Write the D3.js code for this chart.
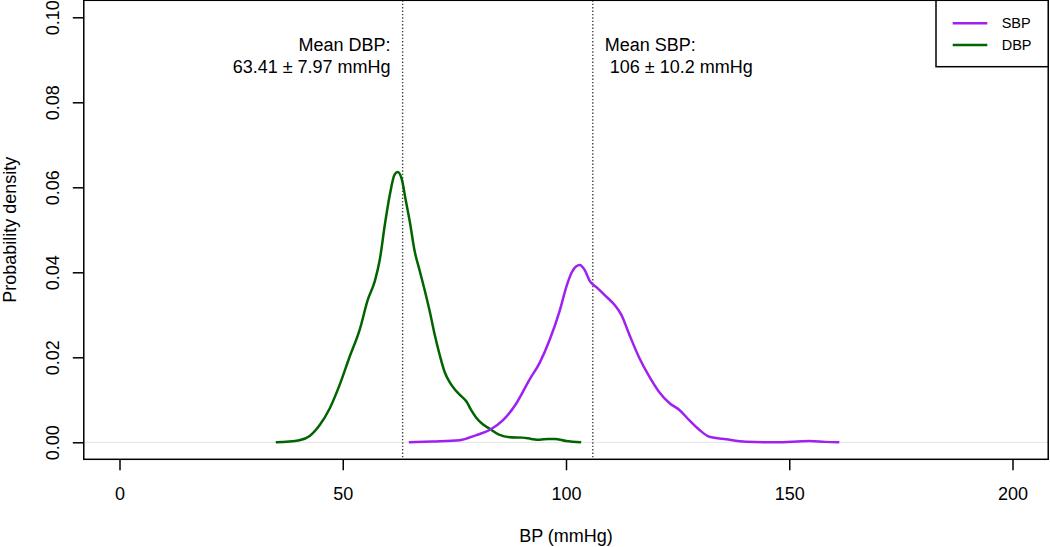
<!DOCTYPE html>
<html>
<head>
<meta charset="utf-8">
<script src="https://cdn.jsdelivr.net/npm/d3@7"></script>
<style>
  html, body { margin: 0; padding: 0; background: #fff; }
  svg { display: block; font-family: "Liberation Sans", Arial, sans-serif; }
  text { white-space: pre; }
</style>
</head>
<body>
<svg id="chart" width="1050" height="547"></svg>
<script>
// ---- data ----
const dbpX = [35, 40.3, 42.6, 44.8, 47.1, 49.3, 51.5, 53.8, 55.6, 57.2, 58.3, 59.4, 60.5, 61.6, 62.3, 63.2, 64.1, 65.0, 66.1, 67.2, 68.3, 69.5, 70.6, 71.7, 72.8, 73.9, 75.2, 76.4, 77.7, 78.8, 79.9, 81.3, 82.9, 85.0, 87.4, 90.3, 92.2, 94.1, 96.0, 97.5, 100.0, 103.4];
const dbpY = [0.0, 0.0005, 0.0015, 0.004, 0.008, 0.0135, 0.020, 0.0265, 0.0335, 0.038, 0.043, 0.051, 0.058, 0.063, 0.0636, 0.062, 0.057, 0.052, 0.045, 0.0405, 0.036, 0.0307, 0.0253, 0.0206, 0.0166, 0.0142, 0.0123, 0.0110, 0.0096, 0.0075, 0.0058, 0.0043, 0.0032, 0.0018, 0.0012, 0.0011, 0.0008, 0.0006, 0.0008, 0.0008, 0.0003, 0.0];
const sbpX = [64.8, 70.0, 76.2, 79.9, 82.9, 85.9, 88.9, 91.8, 94.1, 96.3, 98.6, 100.2, 101.3, 102.3, 103.1, 104.2, 105.3, 106.8, 108.6, 110.9, 112.4, 114.2, 116.4, 118.7, 120.9, 123.2, 125.4, 127.6, 129.9, 132.1, 135.9, 140.3, 147.0, 154.5, 158.0, 161.2];
const sbpY = [0.0, 0.0002, 0.0005, 0.0017, 0.0029, 0.0052, 0.0092, 0.0147, 0.0187, 0.024, 0.031, 0.037, 0.040, 0.0414, 0.0417, 0.0405, 0.038, 0.0365, 0.0347, 0.0323, 0.030, 0.0253, 0.0199, 0.0154, 0.0118, 0.0092, 0.0076, 0.0052, 0.0029, 0.0013, 0.0007, 0.00015, 0.0, 0.0003, 0.0001, 0.0];
const xTicks = [0, 50, 100, 150, 200];
const yTicks = [0.00, 0.02, 0.04, 0.06, 0.08, 0.10];
const meanDBP = 63.41;
const meanSBP = 106;
const dbpLabel = ["Mean DBP:", "63.41 \u00b1 7.97 mmHg"];
const sbpLabel = ["Mean SBP:", " 106 \u00b1 10.2 mmHg"];
const seriesNames = ["SBP", "DBP"];
const seriesColors = ["#A020F0", "#006400"];
const xTitle = "BP (mmHg)";
const yTitle = "Probability density";

// ---- scales ----
const x = d3.scaleLinear().domain([0, 200]).range([119.5, 1012.5]);
const y = d3.scaleLinear().domain([0, 0.1]).range([442.3, 17.3]);
const xLo = x(-8), xHi = x(208), yLo = y(-0.004), yHi = y(0.104);

const svg = d3.select("#chart");
const FS = 18;

// zero line
svg.append("line")
  .attr("x1", xLo).attr("x2", xHi)
  .attr("y1", y(0)).attr("y2", y(0))
  .attr("stroke", "#e3e3e3").attr("stroke-width", 1);

// mean lines
[meanDBP, meanSBP].forEach(m => {
  svg.append("line")
    .attr("x1", x(m)).attr("x2", x(m))
    .attr("y1", yHi).attr("y2", yLo)
    .attr("stroke", "#444").attr("stroke-width", 1.4)
    .attr("stroke-dasharray", "1.4,2");
});

// curves
const line = d3.line().curve(d3.curveMonotoneX).x(d => x(d[0])).y(d => y(d[1]));
const dbp = dbpX.map((v, i) => [v, dbpY[i]]);
const sbp = sbpX.map((v, i) => [v, sbpY[i]]);
svg.append("path").datum(dbp).attr("d", line)
  .attr("fill", "none").attr("stroke", seriesColors[1]).attr("stroke-width", 2.5)
  .attr("stroke-linejoin", "round");
svg.append("path").datum(sbp).attr("d", line)
  .attr("fill", "none").attr("stroke", seriesColors[0]).attr("stroke-width", 2.5)
  .attr("stroke-linejoin", "round");

// annotations
dbpLabel.forEach((t, i) => {
  svg.append("text").attr("x", x(meanDBP) - 12).attr("y", 51 + i * 22.3)
    .attr("text-anchor", "end").attr("font-size", FS).attr("fill", "#000").text(t);
});
sbpLabel.forEach((t, i) => {
  svg.append("text").attr("x", x(meanSBP) + 12).attr("y", 51 + i * 22.3)
    .attr("text-anchor", "start").attr("font-size", FS).attr("fill", "#000").text(t);
});

// box
svg.append("rect")
  .attr("x", xLo).attr("y", yHi)
  .attr("width", xHi - xLo).attr("height", yLo - yHi)
  .attr("fill", "none").attr("stroke", "#000").attr("stroke-width", 1.5);

// x axis
const xAxis = d3.axisBottom(x).tickValues(xTicks).tickSize(11).tickPadding(17)
  .tickFormat(d3.format("d"));
const gx = svg.append("g").attr("transform", `translate(0,${yLo})`).call(xAxis);
gx.select(".domain").remove();
gx.selectAll("line").attr("stroke", "#000").attr("stroke-width", 1.5);
gx.selectAll("text").attr("font-size", FS).attr("fill", "#000")
  .attr("font-family", "Liberation Sans, Arial, sans-serif");

// y axis
const yAxis = d3.axisLeft(y).tickValues(yTicks).tickSize(11).tickFormat(d3.format(".2f"));
const gy = svg.append("g").attr("transform", `translate(${xLo},0)`).call(yAxis);
gy.select(".domain").remove();
gy.selectAll("line").attr("stroke", "#000").attr("stroke-width", 1.5);
gy.selectAll("text").remove();
gy.selectAll(".tick").append("text")
  .attr("transform", "translate(-25,0) rotate(-90)")
  .attr("text-anchor", "middle").attr("font-size", FS).attr("fill", "#000")
  .attr("font-family", "Liberation Sans, Arial, sans-serif")
  .text(d => d3.format(".2f")(d));

// axis titles
svg.append("text").attr("x", (xLo + xHi) / 2).attr("y", 542)
  .attr("text-anchor", "middle").attr("font-size", FS).text(xTitle);
svg.append("text")
  .attr("transform", `translate(16,${(yLo + yHi) / 2}) rotate(-90)`)
  .attr("text-anchor", "middle").attr("font-size", FS).text(yTitle);

// legend
const lg = svg.append("g");
lg.append("rect").attr("x", 936).attr("y", yHi).attr("width", xHi - 936).attr("height", 66.7 - yHi)
  .attr("fill", "#fff").attr("stroke", "#000").attr("stroke-width", 1.5);
seriesNames.forEach((n, i) => {
  const cy = 23.3 + i * 21.7;
  lg.append("line").attr("x1", 952.7).attr("x2", 987.3).attr("y1", cy).attr("y2", cy)
    .attr("stroke", seriesColors[i]).attr("stroke-width", 2.5);
  lg.append("text").attr("x", 1001.7).attr("y", cy).attr("dy", "0.35em")
    .attr("font-size", 14.5).text(n);
});
</script>
</body>
</html>
